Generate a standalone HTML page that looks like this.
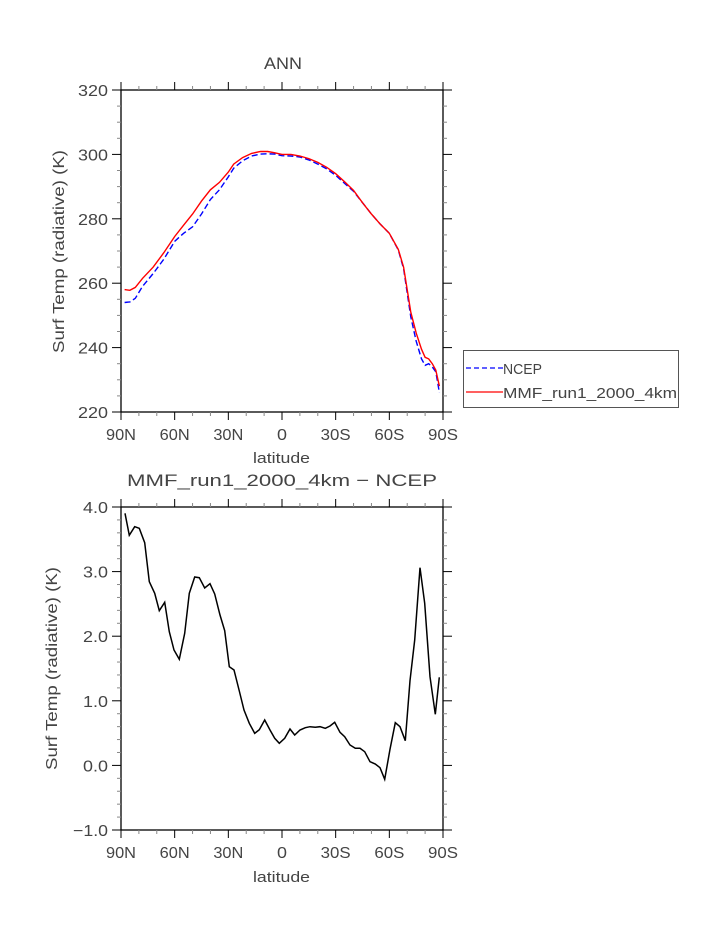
<!DOCTYPE html>
<html><head><meta charset="utf-8"><style>
html,body{margin:0;padding:0;background:#fff;}
svg text{font-family:"Liberation Sans",sans-serif;fill:#444;}
</style></head><body>
<svg id="s" width="723" height="935" xmlns="http://www.w3.org/2000/svg">
<text x="264" y="69" font-size="17" textLength="38" lengthAdjust="spacingAndGlyphs">ANN</text>
<text x="127" y="486" font-size="17" textLength="310" lengthAdjust="spacingAndGlyphs">MMF_run1_2000_4km − NCEP</text>
<text x="253" y="463" font-size="15" textLength="57" lengthAdjust="spacingAndGlyphs">latitude</text>
<text x="253" y="882" font-size="15" textLength="57" lengthAdjust="spacingAndGlyphs">latitude</text>
<text transform="translate(64,353) rotate(-90)" font-size="16" textLength="203" lengthAdjust="spacingAndGlyphs">Surf Temp (radiative) (K)</text>
<text transform="translate(57,770) rotate(-90)" font-size="16" textLength="203" lengthAdjust="spacingAndGlyphs">Surf Temp (radiative) (K)</text>
<rect x="463.5" y="350.5" width="215" height="57" fill="none" stroke="#555" stroke-width="1"/>
<line x1="466" y1="368" x2="503" y2="368" stroke="#0000ff" stroke-width="1.3" stroke-dasharray="5,3"/>
<line x1="466" y1="392" x2="503" y2="392" stroke="#ff0000" stroke-width="1.3"/>
<text x="503" y="374" font-size="15" textLength="39" lengthAdjust="spacingAndGlyphs">NCEP</text>
<text x="503" y="398" font-size="15" textLength="174" lengthAdjust="spacingAndGlyphs">MMF_run1_2000_4km</text>
<g id="g"></g>
</svg>
<script>
var g=document.getElementById('g'),h='';
function tl(s){var w=0;for(var i=0;i<s.length;i++){var c=s[i];w+=(c=='.'?5:(c=='−'?10:10));}return w;}
function ax(top,bot,ymin,ymax,major,minor,fmt){
 var L=121,R=443;
 h+='<rect x="'+L+'" y="'+top+'" width="'+(R-L)+'" height="'+(bot-top)+'" fill="none" stroke="#000" stroke-width="1.3"/>';
 var X=function(lat){return L+(90-lat)*(R-L)/180;};
 var labs=['90N','60N','30N','0','30S','60S','90S'];
 for(var lat=90;lat>=-90;lat-=10){var x=X(lat),mj=(lat%30==0),t=mj?8:4;
  h+='<line x1="'+x+'" y1="'+top+'" x2="'+x+'" y2="'+(top-t)+'" stroke="'+(mj?'#000':'#888')+'"/>';
  h+='<line x1="'+x+'" y1="'+bot+'" x2="'+x+'" y2="'+(bot+t)+'" stroke="'+(mj?'#000':'#888')+'"/>';
  if(mj){var s=labs[(90-lat)/30],w=s.length*10;h+='<text x="'+(x-w/2)+'" y="'+(bot+28)+'" font-size="16" textLength="'+w+'" lengthAdjust="spacingAndGlyphs">'+s+'</text>';}}
 var Y=function(v){return bot-(v-ymin)*(bot-top)/(ymax-ymin);};
 var n=Math.round((ymax-ymin)/minor);
 for(var i=0;i<=n;i++){var v=ymin+i*minor,y=Y(v),mj=Math.abs(Math.round((v-ymin)/major)*major-(v-ymin))<1e-6,t=mj?9:4;
  h+='<line x1="'+L+'" y1="'+y+'" x2="'+(L-t)+'" y2="'+y+'" stroke="'+(mj?'#000':'#888')+'"/>';
  h+='<line x1="'+R+'" y1="'+y+'" x2="'+(R+t)+'" y2="'+y+'" stroke="'+(mj?'#000':'#888')+'"/>';
  if(mj){var s=fmt(v),w=tl(s);h+='<text x="'+(L-13-w)+'" y="'+(y+6)+'" font-size="16" textLength="'+w+'" lengthAdjust="spacingAndGlyphs">'+s+'</text>';}}
 return [X,Y];}
var a=ax(90,412,220,320,20,5,function(v){return v.toFixed(0)});
var red=[[88,258],[85,257.8],[82,258.7],[78,261.5],[72,265],[66,269.5],[60,274.5],[55,278],[50,281.5],[45,285.5],[40,289],[35,291.3],[30,294.5],[27,297],[22,299],[17,300.3],[12,300.9],[8,300.9],[4,300.5],[0,300],[-5,300],[-10,299.5],[-15,298.7],[-20,297.5],[-25,296],[-30,294],[-35,291.5],[-40,288.8],[-45,285],[-50,281.5],[-55,278.3],[-60,275.5],[-65,270.5],[-68,265],[-70,258],[-72,251],[-75,244.5],[-78,239.5],[-80,237],[-82,236.5],[-84,235],[-86,233],[-88,228]];
var blue=[[88,254],[85,254.2],[82,255.3],[78,259],[72,263],[66,267.5],[60,273],[55,275.5],[50,277.5],[45,281.5],[40,286],[35,289],[30,293],[27,295.7],[22,298],[17,299.5],[12,300.1],[8,300.2],[4,300.1],[0,299.6],[-5,299.5],[-10,299.2],[-15,298.3],[-20,297],[-25,295.5],[-30,293.5],[-35,291],[-40,288.5],[-45,285],[-50,281.5],[-55,278.3],[-60,275.5],[-65,270.3],[-68,264.5],[-70,257],[-72,249.5],[-75,242],[-78,236.5],[-80,234.5],[-82,235],[-84,234],[-86,232.5],[-88,226]];
function pl(d,c,da){h+='<polyline fill="none" stroke="'+c+'" stroke-width="1.4" '+(da?'stroke-dasharray="6,3"':'')+' points="'+d.map(function(p){return a[0](p[0]).toFixed(1)+','+a[1](p[1]).toFixed(1)}).join(' ')+'"/>';}
pl(blue,'#0000ff',1);pl(red,'#ff0000',0);
ax(507,830,-1,4,1,0.2,function(v){return v<0?'−'+(-v).toFixed(1):v.toFixed(1)});
var z=[[255,130],[268,196],[284,170],[298,175],[314,218],[328,335],[344,370],[358,422],[374,397],[388,485],[402,540],[418,568],[434,490],[448,370],[464,321],[478,323],[494,354],[510,341],[524,372],[540,435],[554,482],[568,590],[582,600],[598,663],[612,720],[628,760],[644,790],[658,779],[674,750],[690,780],[704,805],[718,820],[734,805],[750,777],[764,795],[780,780],[796,773],[810,770],[826,772],[840,770],[856,775],[870,768],[884,757],[900,787],[914,800],[930,825],[946,835],[960,835],[974,845],[990,875],[1006,882],[1020,893],[1034,928],[1050,838],[1066,758],[1080,770],[1096,812],[1110,632],[1124,510],[1140,293],[1154,400],[1170,620],[1186,733],[1198,622]];
h+='<polyline fill="none" stroke="#000" stroke-width="1.5" points="'+z.map(function(p){return (40+p[0]/3).toFixed(1)+','+(470+p[1]/3).toFixed(1)}).join(' ')+'"/>';
g.innerHTML=h;
</script>
</body></html>
